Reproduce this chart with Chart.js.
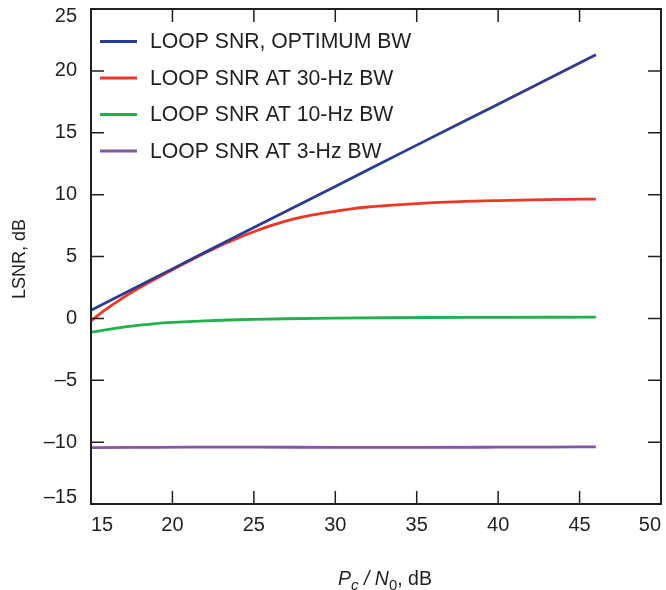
<!DOCTYPE html>
<html><head><meta charset="utf-8">
<script src="https://cdn.jsdelivr.net/npm/chart.js@4/dist/chart.umd.min.js"></script>
<style>html,body{margin:0;padding:0;background:#fff}#wrap{width:666px;height:590px;position:relative}</style>
</head><body><div id="wrap"><canvas id="c" width="666" height="590"></canvas></div>
<script>
// ---- data ----
const seriesNames = ['LOOP SNR, OPTIMUM BW', 'LOOP SNR AT 30-Hz BW', 'LOOP SNR AT 10-Hz BW', 'LOOP SNR AT 3-Hz BW'];
const seriesColors = ['#2b3a97', '#ee3526', '#23b14d', '#8257a8'];

const xOptimum = [15, 20, 25, 30, 35, 40, 46];
const yOptimum = [0.65, 4.0, 7.35, 10.65, 14.0, 17.3, 21.3];

const x30Hz = [15, 16, 17, 18, 19, 20, 21, 22, 23, 24, 25, 26, 27, 28, 29, 30, 31, 32, 33, 34, 35, 36, 38, 40, 42, 44, 46];
const y30Hz = [-0.2, 0.8, 1.7, 2.5, 3.22, 3.93, 4.62, 5.28, 5.92, 6.48, 7.0, 7.47, 7.88, 8.2, 8.45, 8.65, 8.85, 9.0, 9.1, 9.2, 9.28, 9.35, 9.45, 9.52, 9.58, 9.62, 9.64];

const x10Hz = [15, 16, 17, 18, 19, 20, 21, 22, 23, 24, 25, 27, 30, 33, 36, 40, 43, 46];
const y10Hz = [-1.13, -0.9, -0.7, -0.55, -0.42, -0.33, -0.26, -0.2, -0.15, -0.11, -0.08, -0.03, 0.02, 0.05, 0.07, 0.08, 0.09, 0.1];

const x3Hz = [15, 18, 21, 25, 30, 35, 40, 43, 46];
const y3Hz = [-10.45, -10.43, -10.41, -10.41, -10.42, -10.42, -10.41, -10.4, -10.38];

const xTickValues = [15, 20, 25, 30, 35, 40, 45, 50];
const yTickValues = [-15, -10, -5, 0, 5, 10, 15, 20, 25];

const yTitle = 'LSNR, dB';

// ---- chart ----
const INK = '#231f20';
const FONT = "'Liberation Sans', Arial, Helvetica, sans-serif";
function pts(xs, ys) { return xs.map((x, i) => ({ x: x, y: ys[i] })); }
function fmt(v) { return v < 0 ? '\u2013' + Math.abs(v) : String(v); }
const xsAll = [xOptimum, x30Hz, x10Hz, x3Hz];
const ysAll = [yOptimum, y30Hz, y10Hz, y3Hz];

const datasets = seriesNames.map((name, i) => ({
  label: name,
  data: pts(xsAll[i], ysAll[i]),
  borderColor: seriesColors[i],
  backgroundColor: seriesColors[i],
  borderWidth: 2.8,
  pointRadius: 0,
  cubicInterpolationMode: 'monotone',
  fill: false
}));

const framePlugin = {
  id: 'frame',
  afterDatasetsDraw(chart) {
    const { ctx, chartArea: a, scales } = chart;
    ctx.save();
    ctx.strokeStyle = INK;
    ctx.lineWidth = 1.5;
    const TL = 13;
    ctx.beginPath();
    scales.x.ticks.forEach(t => {
      const px = scales.x.getPixelForValue(t.value);
      if (px <= a.left + 1 || px >= a.right - 1) return;
      ctx.moveTo(px, a.bottom); ctx.lineTo(px, a.bottom - TL);
      ctx.moveTo(px, a.top); ctx.lineTo(px, a.top + TL);
    });
    scales.y.ticks.forEach(t => {
      const py = scales.y.getPixelForValue(t.value);
      if (py <= a.top + 1 || py >= a.bottom - 1) return;
      ctx.moveTo(a.left, py); ctx.lineTo(a.left + TL, py);
      ctx.moveTo(a.right, py); ctx.lineTo(a.right - TL, py);
    });
    ctx.stroke();
    ctx.lineWidth = 2;
    ctx.strokeRect(a.left, a.top, a.right - a.left, a.bottom - a.top);
    ctx.restore();
  },
  afterDraw(chart) {
    const { ctx, chartArea: a, scales } = chart;
    ctx.save();
    ctx.fillStyle = INK;
    // end labels of the y axis, kept inside the frame's height
    ctx.font = '20px ' + FONT;
    ctx.textAlign = 'right';
    ctx.textBaseline = 'middle';
    const yFirst = yTickValues[0], yLast = yTickValues[yTickValues.length - 1];
    ctx.fillText(fmt(yFirst), a.left - 14, scales.y.getPixelForValue(yFirst) - 7);
    ctx.fillText(fmt(yLast), a.left - 14, scales.y.getPixelForValue(yLast) + 7);
    // legend
    ctx.font = '21.2px ' + FONT;
    ctx.textBaseline = 'middle';
    ctx.textAlign = 'left';
    chart.data.datasets.forEach((ds, i) => {
      const y = a.top + 32.5 + i * 36.5;
      ctx.strokeStyle = ds.borderColor;
      ctx.lineWidth = 2.8;
      ctx.beginPath();
      ctx.moveTo(a.left + 9, y); ctx.lineTo(a.left + 46, y);
      ctx.stroke();
      ctx.fillText(ds.label, a.left + 59, y + 1);
    });
    // y title
    ctx.save();
    ctx.translate(20, 259);
    ctx.rotate(-Math.PI / 2);
    ctx.font = '18px ' + FONT;
    ctx.textAlign = 'center';
    ctx.textBaseline = 'middle';
    ctx.fillText(yTitle, 0, 0);
    ctx.restore();
    // x title: P_c / N_0, dB
    const parts = [
      { t: 'P', f: 'italic 19.5px ' + FONT, dy: 0 },
      { t: 'c', f: 'italic 15px ' + FONT, dy: 4.5 },
      { t: ' / ', f: 'italic 19.5px ' + FONT, dy: 0 },
      { t: 'N', f: 'italic 19.5px ' + FONT, dy: 0 },
      { t: '0', f: '15px ' + FONT, dy: 4.5 },
      { t: ', dB', f: '19.5px ' + FONT, dy: 0 }
    ];
    ctx.textAlign = 'left';
    ctx.textBaseline = 'alphabetic';
    let total = 0;
    parts.forEach(p => { ctx.font = p.f; p.w = ctx.measureText(p.t).width; total += p.w; });
    let x = 385 - total / 2;
    const base = 585;
    parts.forEach(p => { ctx.font = p.f; ctx.fillText(p.t, x, base + p.dy); x += p.w; });
    ctx.restore();
  }
};

new Chart(document.getElementById('c'), {
  type: 'line',
  data: { datasets: datasets },
  options: {
    responsive: false,
    animation: false,
    devicePixelRatio: 1,
    layout: { padding: { top: 9, right: 5, left: 0, bottom: 0 } },
    plugins: { legend: { display: false }, tooltip: { enabled: false } },
    scales: {
      x: {
        type: 'linear', min: 15, max: 50,
        afterBuildTicks: s => { s.ticks = xTickValues.map(v => ({ value: v })); },
        afterFit: s => { s.height = 86; s.paddingLeft = 0; s.paddingRight = 0; },
        grid: { display: false, drawTicks: false },
        border: { display: false },
        ticks: { font: { family: FONT, size: 20 }, color: INK, padding: 9, align: 'inner', maxRotation: 0, autoSkip: false }
      },
      y: {
        type: 'linear', min: -15, max: 25,
        afterBuildTicks: s => { s.ticks = yTickValues.map(v => ({ value: v })); },
        afterFit: s => { s.width = 91; s.paddingTop = 0; s.paddingBottom = 0; },
        grid: { display: false, drawTicks: false },
        border: { display: false },
        ticks: {
          font: { family: FONT, size: 20 }, color: INK, padding: 14,
          callback: (v, i, arr) => (i === 0 || i === arr.length - 1 ? '' : fmt(v))
        }
      }
    }
  },
  plugins: [framePlugin]
});
</script>
</body></html>
